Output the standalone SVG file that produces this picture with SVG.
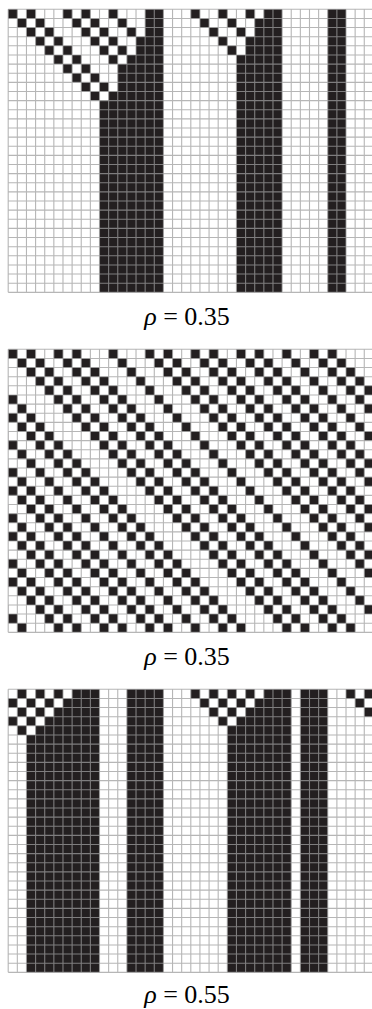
<svg xmlns="http://www.w3.org/2000/svg" xmlns:xlink="http://www.w3.org/1999/xlink" width="372" height="1009" viewBox="0 0 372 1009">
<style>
.cell{fill:#231f20}
.grid{fill:none;stroke:#9d9d9d;stroke-opacity:0.75;stroke-width:0.12}
.lbl{font-family:"Liberation Serif","DejaVu Serif",serif;font-size:26px;fill:#000}
</style>
<defs>
<path id="gl" d="M0 0V31M1 0V31M2 0V31M3 0V31M4 0V31M5 0V31M6 0V31M7 0V31M8 0V31M9 0V31M10 0V31M11 0V31M12 0V31M13 0V31M14 0V31M15 0V31M16 0V31M17 0V31M18 0V31M19 0V31M20 0V31M21 0V31M22 0V31M23 0V31M24 0V31M25 0V31M26 0V31M27 0V31M28 0V31M29 0V31M30 0V31M31 0V31M32 0V31M33 0V31M34 0V31M35 0V31M36 0V31M37 0V31M38 0V31M39 0V31M40 0V31M0 0H40M0 1H40M0 2H40M0 3H40M0 4H40M0 5H40M0 6H40M0 7H40M0 8H40M0 9H40M0 10H40M0 11H40M0 12H40M0 13H40M0 14H40M0 15H40M0 16H40M0 17H40M0 18H40M0 19H40M0 20H40M0 21H40M0 22H40M0 23H40M0 24H40M0 25H40M0 26H40M0 27H40M0 28H40M0 29H40M0 30H40M0 31H40"/>
<path id="d31" d="M0 0h1v1h-1zM1 1h1v1h-1zM2 2h1v1h-1zM3 3h1v1h-1zM4 4h1v1h-1zM5 5h1v1h-1zM6 6h1v1h-1zM7 7h1v1h-1zM8 8h1v1h-1zM9 9h1v1h-1zM10 10h1v1h-1zM11 11h1v1h-1zM12 12h1v1h-1zM13 13h1v1h-1zM14 14h1v1h-1zM15 15h1v1h-1zM16 16h1v1h-1zM17 17h1v1h-1zM18 18h1v1h-1zM19 19h1v1h-1zM20 20h1v1h-1zM21 21h1v1h-1zM22 22h1v1h-1zM23 23h1v1h-1zM24 24h1v1h-1zM25 25h1v1h-1zM26 26h1v1h-1zM27 27h1v1h-1zM28 28h1v1h-1zM29 29h1v1h-1zM30 30h1v1h-1z"/>
<clipPath id="gc"><rect x="0" y="0" width="40" height="31"/></clipPath>
</defs>
<rect width="372" height="1009" fill="#fff"/>

<g id="panel1" transform="translate(8.2 9.3) scale(9.13)">
<path class="cell" d="M0 0h1v1h-1zM1 1h1v1h-1zM2 2h1v1h-1zM3 3h1v1h-1zM4 4h1v1h-1zM5 5h1v1h-1zM6 6h1v1h-1zM7 7h1v1h-1zM8 8h1v1h-1zM9 9h1v1h-1zM10 10h1v21h-1zM2 0h1v1h-1zM3 1h1v1h-1zM4 2h1v1h-1zM5 3h1v1h-1zM6 4h1v1h-1zM7 5h1v1h-1zM8 6h1v1h-1zM9 7h1v1h-1zM10 8h1v1h-1zM11 9h1v22h-1zM6 0h1v1h-1zM7 1h1v1h-1zM8 2h1v1h-1zM9 3h1v1h-1zM10 4h1v1h-1zM11 5h1v1h-1zM12 6h1v25h-1zM8 0h1v1h-1zM9 1h1v1h-1zM10 2h1v1h-1zM11 3h1v1h-1zM12 4h1v1h-1zM13 5h1v26h-1zM11 0h1v1h-1zM12 1h1v1h-1zM13 2h1v1h-1zM14 3h1v28h-1zM15 0h2v31h-2zM20 0h1v1h-1zM21 1h1v1h-1zM22 2h1v1h-1zM23 3h1v1h-1zM24 4h1v1h-1zM25 5h1v26h-1zM23 0h1v1h-1zM24 1h1v1h-1zM25 2h1v1h-1zM26 3h1v28h-1zM26 0h1v1h-1zM27 1h1v30h-1zM28 0h2v31h-2zM35 0h2v31h-2z"/>
<use href="#gl" class="grid"/>
</g>
<text id="label1" class="lbl" x="187" y="324.5" text-anchor="middle"><tspan font-style="italic">ρ</tspan> = 0.35</text>

<g id="panel2" transform="translate(8.2 349.3) scale(9.13)">
<g class="cell" clip-path="url(#gc)">
<use href="#d31" x="0"/><use href="#d31" x="-40"/>
<use href="#d31" x="2"/><use href="#d31" x="-38"/>
<use href="#d31" x="5"/><use href="#d31" x="-35"/>
<use href="#d31" x="7"/><use href="#d31" x="-33"/>
<use href="#d31" x="11"/><use href="#d31" x="-29"/>
<use href="#d31" x="15"/><use href="#d31" x="-25"/>
<use href="#d31" x="17"/><use href="#d31" x="-23"/>
<use href="#d31" x="20"/><use href="#d31" x="-20"/>
<use href="#d31" x="22"/><use href="#d31" x="-18"/>
<use href="#d31" x="25"/><use href="#d31" x="-15"/>
<use href="#d31" x="27"/><use href="#d31" x="-13"/>
<use href="#d31" x="30"/><use href="#d31" x="-10"/>
<use href="#d31" x="33"/><use href="#d31" x="-7"/>
<use href="#d31" x="35"/><use href="#d31" x="-5"/>
</g>
<use href="#gl" class="grid"/>
</g>
<text id="label2" class="lbl" x="187" y="664.5" text-anchor="middle"><tspan font-style="italic">ρ</tspan> = 0.35</text>

<g id="panel3" transform="translate(8.2 689.3) scale(9.13)">
<path class="cell" d="M37 0h1v1h-1zM38 1h1v1h-1zM39 2h1v1h-1zM0 3h1v1h-1zM1 4h1v1h-1zM2 5h1v26h-1zM39 0h1v1h-1zM0 1h1v1h-1zM1 2h1v1h-1zM2 3h1v1h-1zM3 4h1v27h-1zM1 0h1v1h-1zM2 1h1v1h-1zM3 2h1v1h-1zM4 3h1v28h-1zM3 0h1v1h-1zM4 1h1v1h-1zM5 2h1v29h-1zM5 0h1v1h-1zM6 1h1v30h-1zM7 0h3v31h-3zM13 0h4v31h-4zM20 0h1v1h-1zM21 1h1v1h-1zM22 2h1v1h-1zM23 3h1v1h-1zM24 4h1v27h-1zM22 0h1v1h-1zM23 1h1v1h-1zM24 2h1v1h-1zM25 3h1v28h-1zM24 0h1v1h-1zM25 1h1v1h-1zM26 2h1v29h-1zM26 0h1v1h-1zM27 1h1v30h-1zM28 0h3v31h-3zM32 0h3v31h-3z"/>
<use href="#gl" class="grid"/>
</g>
<text id="label3" class="lbl" x="187" y="1003" text-anchor="middle"><tspan font-style="italic">ρ</tspan> = 0.55</text>
</svg>
